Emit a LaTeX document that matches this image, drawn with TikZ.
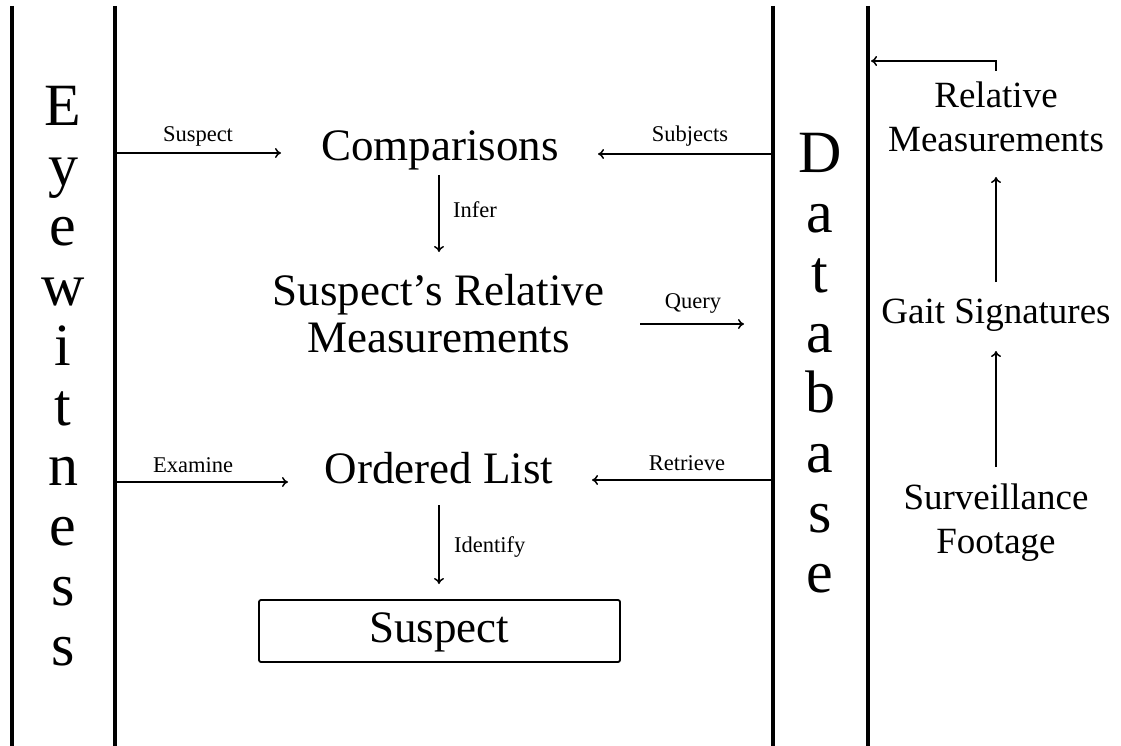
\documentclass[tikz,border=0pt]{standalone}
\usepackage{fontspec}
\setmainfont{Liberation Serif}
\usetikzlibrary{arrows.meta}
\begin{document}
\begin{tikzpicture}[x=1pt,y=-1pt,
  lane/.style={line width=4pt},
  arr/.style={line width=1.5pt,-{To[length=6pt,width=10pt]}},
  big/.style={inner sep=0pt,font=\fontsize{45}{47}\selectfont,align=center},
  side/.style={inner sep=0pt,font=\fontsize{37}{44}\selectfont,align=center},
  vword/.style={inner sep=0pt,font=\fontsize{60}{60}\selectfont,align=center},
  lbl/.style={inner sep=0pt,font=\fontsize{22.5}{26}\selectfont}]
\useasboundingbox (0,0) rectangle (1121,746);
\fill[white] (0,0) rectangle (1121,746);
% lane lines
\coordinate (l1t) at (12,6);   \coordinate (l1b) at (12,746);
\coordinate (l2t) at (115,6);  \coordinate (l2b) at (115,746);
\coordinate (l3t) at (773,6);  \coordinate (l3b) at (773,746);
\coordinate (l4t) at (868,6);  \coordinate (l4b) at (868,746);
\draw[lane] (l1t) -- (l1b);
\draw[lane] (l2t) -- (l2b);
\draw[lane] (l3t) -- (l3b);
\draw[lane] (l4t) -- (l4b);
% vertical words (anchor base = baseline of last line)
\node[vword,anchor=base] (eye) at (63,665) {E\\y\\e\\w\\i\\t\\n\\e\\s\\s};
\node[vword,anchor=base] (db) at (820,592) {D\\a\\t\\a\\b\\a\\s\\e};
% main nodes
\node[big,anchor=base] (comp) at (440,161) {Comparisons};
\node[big,anchor=base] (rel) at (438.5,352) {Suspect’s Relative\\Measurements};
\node[big,anchor=base] (ord) at (439,483) {Ordered List};
\node[draw,line width=1.8pt,rounded corners=2pt,minimum width=361pt,minimum height=62pt,inner sep=0pt] (sus) at (439.5,631) {};
\node[inner sep=0pt,font=\fontsize{45}{48}\selectfont,anchor=base] (sustext) at (439,642) {Suspect};
% right side
\node[side,anchor=base] (rm) at (996,152) {Relative\\Measurements};
\node[side,anchor=base] (gait) at (996,323) {Gait Signatures};
\node[side,anchor=base] (surv) at (996,553) {Surveillance\\Footage};
% connector end points
\coordinate (a1s) at (117,153); \coordinate (a1e) at (281,153);
\coordinate (a2s) at (771,154); \coordinate (a2e) at (598,154);
\coordinate (a3s) at (439,175); \coordinate (a3e) at (439,252);
\coordinate (a4s) at (640,324); \coordinate (a4e) at (744,324);
\coordinate (a5s) at (117,482); \coordinate (a5e) at (288,482);
\coordinate (a6s) at (771,480); \coordinate (a6e) at (592,480);
\coordinate (a7s) at (439,505); \coordinate (a7e) at (439,584);
\coordinate (b1s) at (996,71); \coordinate (b1m) at (996,61); \coordinate (b1e) at (871,61);
\coordinate (b2s) at (996,282); \coordinate (b2e) at (996,177);
\coordinate (b3s) at (996,467); \coordinate (b3e) at (996,351);
% connectors
\draw[arr] (a1s) -- (a1e);
\draw[arr] (a2s) -- (a2e);
\draw[arr] (a3s) -- (a3e);
\draw[arr] (a4s) -- (a4e);
\draw[arr] (a5s) -- (a5e);
\draw[arr] (a6s) -- (a6e);
\draw[arr] (a7s) -- (a7e);
\draw[arr] (b1s) -- (b1m) -- (b1e);
\draw[arr] (b2s) -- (b2e);
\draw[arr] (b3s) -- (b3e);
% labels
\node[lbl,anchor=base] (lsus) at (198,142) {Suspect};
\node[lbl,anchor=base] (lsub) at (690,142) {Subjects};
\node[lbl,anchor=base west] (linf) at (453,217) {Infer};
\node[lbl,anchor=base] (lqry) at (693,308) {Query};
\node[lbl,anchor=base] (lexa) at (193,472) {Examine};
\node[lbl,anchor=base] (lret) at (687,470) {Retrieve};
\node[lbl,anchor=base west] (lidf) at (454,552) {Identify};
\end{tikzpicture}
\end{document}
